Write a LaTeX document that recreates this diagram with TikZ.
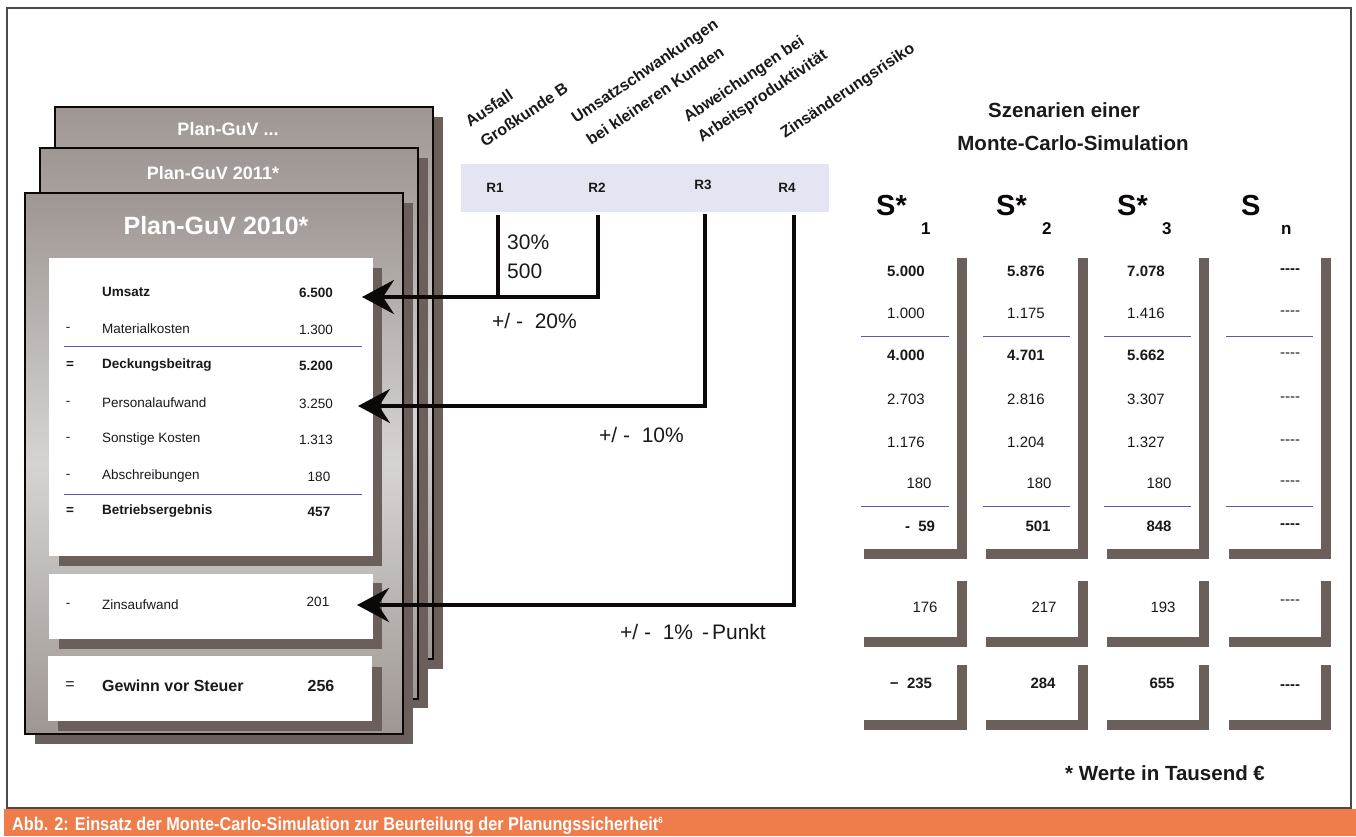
\documentclass[tikz,border=0pt]{standalone}
\usepackage{fontspec}
\setmainfont{Liberation Sans}
\newfontfamily\capfont[FakeStretch=0.88]{Liberation Sans}
\usetikzlibrary{arrows.meta,calc}

\definecolor{shadowc}{HTML}{6B5F5C}
\definecolor{cardtop}{HTML}{9E9692}
\definecolor{cardmid}{HTML}{D6D4D2}
\definecolor{rfill}{HTML}{E3E6F2}
\definecolor{sumline}{HTML}{5B58A8}
\definecolor{capbar}{HTML}{EE7D4B}
\definecolor{framec}{HTML}{4A4A4A}
\definecolor{ink}{HTML}{0D0808}
\definecolor{txt}{HTML}{1A1A1A}

% single hyphens kept apart so they do not merge into dashes
\newcommand\hy{\mbox{-}}
\newcommand\nodash{\hy\hy\hy\hy}

\tikzset{
  fs/.style={font=\fontsize{#1}{#1}\selectfont},
  lab/.style={inner sep=0pt, text=txt, fs=13.5},
  labb/.style={lab, font=\fontsize{13.5}{13.5}\selectfont\bfseries},
  val/.style={inner sep=0pt, text=txt, fs=15},
  valb/.style={val, font=\fontsize{15}{15}\selectfont\bfseries},
  rlab/.style={inner sep=0pt, text=txt, anchor=base west, rotate=34,
    font=\fontsize{16}{16}\selectfont\bfseries},
  card/.style={draw=ink, line width=1.2pt, top color=cardtop, bottom color=cardtop, middle color=cardmid},
  cardtitle/.style={inner sep=0pt, text=white, font=\fontsize{#1}{#1}\selectfont\bfseries},
  conn/.style={line width=4pt, draw=ink, -{Stealth[length=32pt,width=34pt,inset=11pt]}},
  riser/.style={line width=4pt, draw=ink},
  sline/.style={draw=sumline, line width=0.9pt},
  big/.style={inner sep=0pt, text=txt, fs=21},
  head/.style={inner sep=0pt, anchor=base west, text=ink, font=\fontsize{29}{29}\selectfont\bfseries},
  headsub/.style={inner sep=0pt, anchor=base west, text=ink, font=\fontsize{17}{17}\selectfont\bfseries},
}

\begin{document}
\begin{tikzpicture}[x=1pt,y=-1pt]
\useasboundingbox (0,0) rectangle (1356,836);
\fill[white] (0,0) rectangle (1356,836);

% outer frame and caption bar
\draw[framec, line width=1.5pt] (7,8) rectangle (1351,808);
\fill[capbar] (4,809) rectangle (1356,836);
\node[inner sep=0pt, anchor=base west, text=white, font=\capfont\fontsize{18.5}{18.5}\selectfont\bfseries]
  (caption) at (12,830) {Abb. 2: Einsatz der Monte-Carlo-Simulation zur Beurteilung der Planungssicherheit\textsuperscript{\fontsize{9}{9}\selectfont 6}};

% stacked plan cards (back to front)
\fill[shadowc] (65,117) rectangle (443,669);
\path[card] (55,107) rectangle (433,659);
\node[cardtitle=18] (t3) at (228,129) {Plan-GuV ...};
\fill[shadowc] (50,158) rectangle (428,708);
\path[card] (40,148) rectangle (418,699);
\node[cardtitle=18] (t2) at (213,173) {Plan-GuV 2011*};
\fill[shadowc] (35,203) rectangle (413,744);
\path[card] (25,193) rectangle (403,734);
\node[cardtitle=25] (t1) at (216,226) {Plan-GuV 2010*};

% white panels with shadows
\fill[shadowc] (59,268) rectangle (382,566);
\fill[white] (49,258) rectangle (373,556);
\fill[shadowc] (59,583) rectangle (382,649);
\fill[white] (49,574) rectangle (373,639);
\fill[shadowc] (58,667) rectangle (382,731);
\fill[white] (48,656) rectangle (372,721);

% income statement rows
\node[labb, anchor=west] (l1) at (102,292) {Umsatz};
\node[labb] (v1) at (316,293) {6.500};
\node[lab] (d2) at (68,329) {-};
\node[lab, anchor=west] (l2) at (102,329) {Materialkosten};
\node[lab] (v2) at (316,330) {1.300};
\draw[sline] (64,346) -- (362,346);
\node[labb] (d3) at (70,365) {=};
\node[labb, anchor=west] (l3) at (102,365) {Deckungsbeitrag};
\node[labb] (v3) at (316,366) {5.200};
\node[lab] (d4) at (68,403) {-};
\node[lab, anchor=west] (l4) at (102,403) {Personalaufwand};
\node[lab] (v4) at (316,404) {3.250};
\node[lab] (d5) at (68,439) {-};
\node[lab, anchor=west] (l5) at (102,439) {Sonstige Kosten};
\node[lab] (v5) at (316,440) {1.313};
\node[lab] (d6) at (68,476) {-};
\node[lab, anchor=west] (l6) at (102,476) {Abschreibungen};
\node[lab] (v6) at (319,477) {180};
\draw[sline] (64,494) -- (362,494);
\node[labb] (d7) at (70,511) {=};
\node[labb, anchor=west] (l7) at (102,511) {Betriebsergebnis};
\node[labb] (v7) at (319,512) {457};
\node[lab] (d8) at (68,605) {-};
\node[lab, anchor=west] (l8) at (102,605) {Zinsaufwand};
\node[lab] (v8) at (318,602) {201};
\node[labb, fs=16] (d9) at (70,686) {=};
\node[labb, font=\fontsize{16}{16}\selectfont\bfseries, anchor=west] (l9) at (102,686) {Gewinn vor Steuer};
\node[labb, font=\fontsize{16}{16}\selectfont\bfseries] (v9) at (321,686) {256};

% risk factors
\fill[rfill] (461,164) rectangle (829,212);
\node[labb] (R1) at (495,188) {R1};
\node[labb] (R2) at (597,188) {R2};
\node[labb] (R3) at (703,185) {R3};
\node[labb] (R4) at (787,188) {R4};

\node[rlab] (a1) at (470,128) {Ausfall};
\node[rlab] (a2) at (485,148) {Großkunde B};
\node[rlab] (b1) at (576,124) {Umsatzschwankungen};
\node[rlab] (b2) at (591,146) {bei kleineren Kunden};
\node[rlab] (c1) at (688,123) {Abweichungen bei};
\node[rlab] (c2) at (702,143) {Arbeitsproduktivität};
\node[rlab] (e1) at (785,139) {Zinsänderungsrisiko};

% connectors from risk factors to the affected rows
\coordinate (r1b) at (498,215);
\coordinate (r1e) at (498,297);
\coordinate (r2b) at (598,215);
\coordinate (r3b) at (705,214);
\coordinate (r4b) at (794,215);
\coordinate (tip1) at (362,297);
\coordinate (tip2) at (358,406);
\coordinate (tip3) at (357,605);
\draw[riser] (r1b) -- (r1e);
\draw[conn] (r2b) |- (tip1);
\draw[conn] (r3b) |- (tip2);
\draw[conn] (r4b) |- (tip3);

\node[big, anchor=west] (p30) at (507,242) {30\%};
\node[big, anchor=west] (p500) at (507,271) {500};
\node[big, anchor=west] (pm20) at (492,321) {+/ -\ \ 20\%};
\node[big, anchor=west] (pm10) at (599,435) {+/ -\ \ 10\%};
\node[big, anchor=west] (pm1) at (620,632) {+/ -\ \ 1\%\hspace{9pt}-\hspace{3pt}Punkt};

% scenario columns
\node[inner sep=0pt, text=txt, font=\fontsize{20.5}{20.5}\selectfont\bfseries] (sc1) at (1064,110) {Szenarien einer};
\node[inner sep=0pt, text=txt, font=\fontsize{20.5}{20.5}\selectfont\bfseries] (sc2) at (1073,143) {Monte-Carlo-Simulation};

\foreach \xl/\xr in {854/957, 976/1078, 1097/1199, 1219/1321}{
  \fill[shadowc] (\xl+10,258) rectangle (\xr+10,559);
  \fill[white] (\xl,248) rectangle (\xr,549);
  \fill[shadowc] (\xl+10,581) rectangle (\xr+10,647);
  \fill[white] (\xl,571) rectangle (\xr,637);
  \fill[shadowc] (\xl+10,665) rectangle (\xr+10,730);
  \fill[white] (\xl,655) rectangle (\xr,720);
  \draw[sline] (\xl+7,336) -- (\xr-8,336);
  \draw[sline] (\xl+7,506) -- (\xr-8,506);
}
\node[head] (h1) at (876,215) {S*};
\node[headsub] (h1s) at (921,234) {1};
\node[head] (h2) at (996,215) {S*};
\node[headsub] (h2s) at (1042,234) {2};
\node[head] (h3) at (1117,215) {S*};
\node[headsub] (h3s) at (1162,234) {3};
\node[head] (h4) at (1241,215) {S};
\node[headsub] (h4s) at (1281,234) {n};

% scenario 1
\node[valb] (s11) at (906,271) {5.000};
\node[val]  (s12) at (906,313) {1.000};
\node[valb] (s13) at (906,355) {4.000};
\node[val]  (s14) at (906,399) {2.703};
\node[val]  (s15) at (906,442) {1.176};
\node[val]  (s16) at (919,483) {180};
\node[valb] (s17) at (920,526) {-\ \ 59};
\node[val]  (s18) at (925,607) {176};
\node[valb] (s19) at (911,683) {−\ \ 235};
% scenario 2
\node[valb] (s21) at (1026,271) {5.876};
\node[val]  (s22) at (1026,313) {1.175};
\node[valb] (s23) at (1026,355) {4.701};
\node[val]  (s24) at (1026,399) {2.816};
\node[val]  (s25) at (1026,442) {1.204};
\node[val]  (s26) at (1039,483) {180};
\node[valb] (s27) at (1038,526) {501};
\node[val]  (s28) at (1044,607) {217};
\node[valb] (s29) at (1043,683) {284};
% scenario 3
\node[valb] (s31) at (1146,271) {7.078};
\node[val]  (s32) at (1146,313) {1.416};
\node[valb] (s33) at (1146,355) {5.662};
\node[val]  (s34) at (1146,399) {3.307};
\node[val]  (s35) at (1146,442) {1.327};
\node[val]  (s36) at (1159,483) {180};
\node[valb] (s37) at (1159,526) {848};
\node[val]  (s38) at (1163,607) {193};
\node[valb] (s39) at (1162,683) {655};
% scenario n
\node[valb] (sn1) at (1290,271) {\nodash};
\foreach \yy [count=\k from 2] in {313,355,399,442,483} \node[val] (sn\k) at (1290,\yy) {\nodash};
\node[valb] (sn7) at (1290,526) {\nodash};
\node[val]  (sn8) at (1290,602) {\nodash};
\node[valb] (sn9) at (1290,687) {\nodash};

\node[inner sep=0pt, text=txt, font=\fontsize{20.5}{20.5}\selectfont\bfseries] (unit) at (1165,773) {* Werte in Tausend €};
\end{tikzpicture}
\end{document}
